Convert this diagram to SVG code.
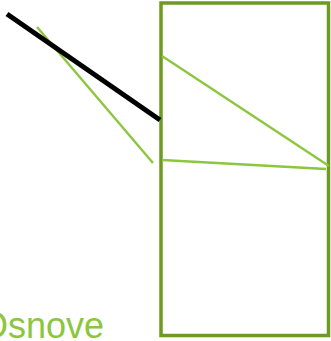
<svg xmlns="http://www.w3.org/2000/svg" width="331" height="341" viewBox="0 0 331 341">
<style>
.frame{fill:none;stroke:#6e9a22;stroke-width:3.5}
.lg{stroke:#8cc63e;stroke-width:2.4;fill:none}
.blk{stroke:#000;stroke-width:5;fill:none}
.lbl{font-family:"Liberation Sans",Arial,sans-serif;font-size:36px;fill:#8cc63e}
</style>
<g id="frame"><rect class="frame" x="161" y="3" width="167.5" height="332.5"/></g>
<g id="connectors">
<line class="lg" x1="37" y1="27" x2="153" y2="163"/>
<line class="blk" x1="7" y1="14" x2="160" y2="120"/>
<line class="lg" x1="162" y1="56" x2="329" y2="166"/>
<line class="lg" x1="162" y1="160" x2="326" y2="169"/>
</g>
<g id="label"><text class="lbl" x="-20" y="338">Osnove</text></g>
</svg>
